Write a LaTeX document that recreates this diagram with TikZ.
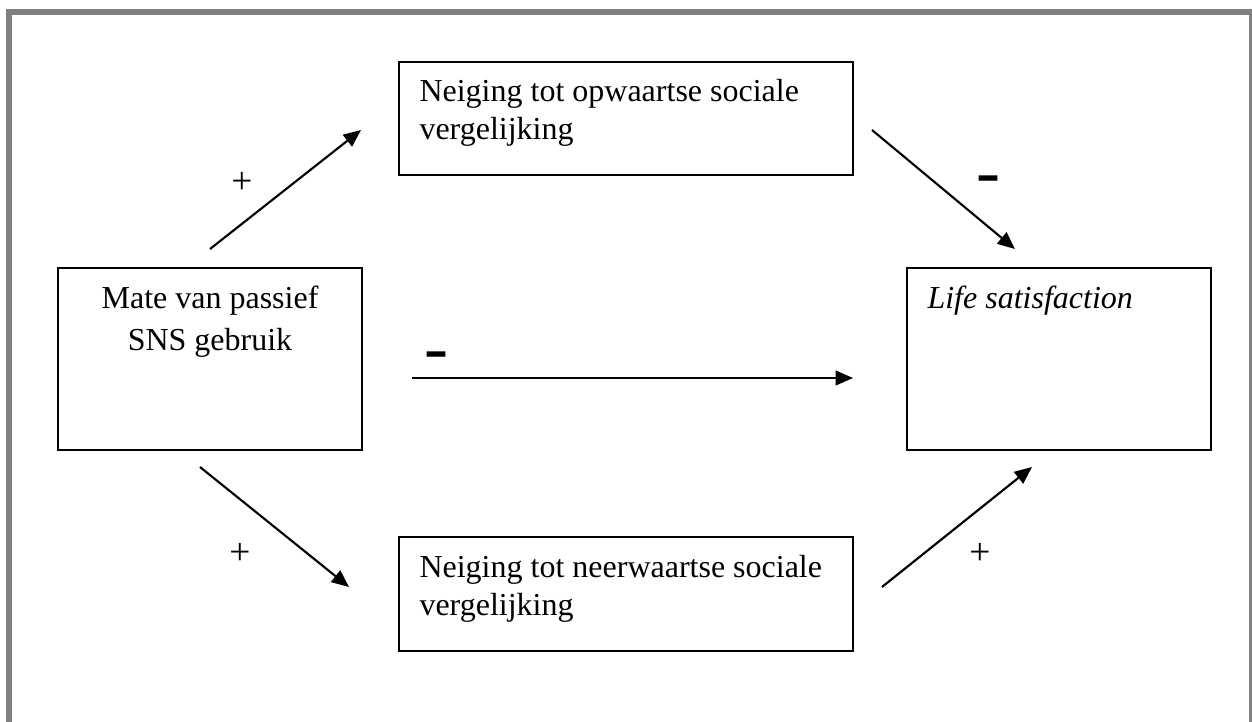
\documentclass[tikz,border=0pt]{standalone}
\usepackage{fontspec}
\setmainfont{Liberation Serif}
\usetikzlibrary{arrows.meta}

\begin{document}
\begin{tikzpicture}[x=0.375pt, y=-0.375pt, >={Triangle[length=6.5pt, width=5.5pt]},
  every box/.style={draw, line width=0.75pt, inner sep=0pt},
  boxtext/.style={inner sep=0pt, font=\fontsize{12pt}{14.25pt}\selectfont},
  sign/.style={inner sep=0pt, font=\fontsize{14pt}{14pt}\selectfont},
  minus/.style={inner sep=0pt, anchor=base, font=\fontsize{27pt}{27pt}\selectfont},
  arrow/.style={->, line width=0.8pt}]

\useasboundingbox (0,0) rectangle (1252,722);

% Frame
\draw[gray, line width=2.25pt] (9,722) |- (1252,12) -- (1252,722);

% Boxes
\node[every box, minimum width=114pt, minimum height=68.25pt] (box-mate) at (210,359) {};
\node[every box, minimum width=170.25pt, minimum height=42.375pt] (box-op) at (626,118.5) {};
\node[every box, minimum width=114pt, minimum height=68.25pt] (box-life) at (1059,359) {};
\node[every box, minimum width=170.25pt, minimum height=42.75pt] (box-neer) at (626,594) {};

% Box texts
\node[boxtext, align=center, anchor=north, font=\fontsize{12pt}{15.75pt}\selectfont] (text-mate)
  at ([shift={(0,18)}]box-mate.north) {Mate van passief\\SNS gebruik};
\node[boxtext, align=left, anchor=north west] (text-op)
  at ([shift={(21,18)}]box-op.north west) {Neiging tot opwaartse sociale\\vergelijking};
\node[boxtext, anchor=north west] (text-life)
  at ([shift={(21,18)}]box-life.north west) {\textit{Life satisfaction}};
\node[boxtext, align=left, anchor=north west] (text-neer)
  at ([shift={(21,19)}]box-neer.north west) {Neiging tot neerwaartse sociale\\vergelijking};

% Arrow ends
\coordinate (up-s) at (210,249);   \coordinate (up-e) at (361,130);
\coordinate (down-s) at (872,130); \coordinate (down-e) at (1015,249);
\coordinate (mid-s) at (412,378);  \coordinate (mid-e) at (853,378);
\coordinate (low-s) at (200,467);  \coordinate (low-e) at (349,587);
\coordinate (rise-s) at (882,587); \coordinate (rise-e) at (1032,467);

% Arrows
\foreach \a/\b in {up-s/up-e, down-s/down-e, mid-s/mid-e, low-s/low-e, rise-s/rise-e}
  \draw[arrow] (\a) -- (\b);

% Signs
\foreach \p [count=\i] in {(242,183),(240,554),(980,554)}
  \node[sign] (plus-\i) at \p {+};
\node[minus] (minus-1) at (988,195) {-};
\node[minus] (minus-2) at (436,371) {-};

\end{tikzpicture}
\end{document}
